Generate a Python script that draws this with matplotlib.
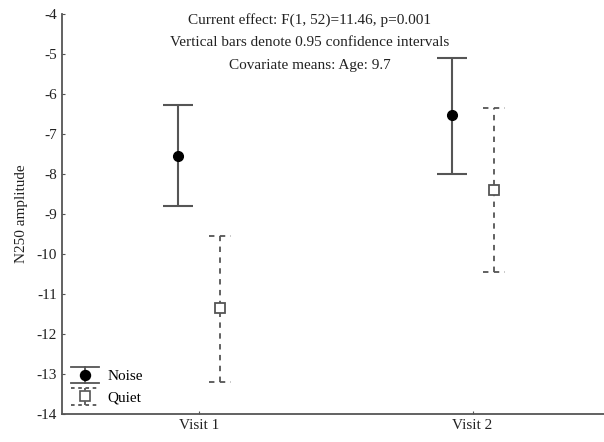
import numpy as np
import matplotlib as mpl
mpl.use('Agg')
import matplotlib.pyplot as plt
from matplotlib.lines import Line2D
from matplotlib.legend_handler import HandlerBase

mpl.rcParams['font.family'] = 'Liberation Serif'
mpl.rcParams['font.size'] = 11
mpl.rcParams['axes.unicode_minus'] = False

# data
visits = ['Visit 1', 'Visit 2']
noise_mean = [-7.55, -6.52]
noise_low = [-8.79, -8.00]
noise_high = [-6.27, -5.09]
quiet_mean = [-11.35, -8.39]
quiet_low = [-13.19, -10.45]
quiet_high = [-9.54, -6.35]

annot = ['Current effect: F(1, 52)=11.46, p=0.001',
         'Vertical bars denote 0.95 confidence intervals',
         'Covariate means: Age: 9.7']

line_col = '#555555'
text_col = '#222222'
dash = (0, (3, 3))

fig = plt.figure(figsize=(6.04, 4.42), dpi=100)
ax = fig.add_axes([62 / 604, 1 - 414 / 442, 1 - 62 / 604, 400 / 442])

x = np.arange(1, len(visits) + 1)
off = 0.077
cap_w = 0.04  # half width of the caps in data units


def yerr(mean, low, high):
    mean = np.array(mean)
    return np.vstack([mean - np.array(low), np.array(high) - mean])


# noise
ax.errorbar(x - off, noise_mean, yerr=yerr(noise_mean, noise_low, noise_high),
            fmt='o', color='black', ecolor=line_col, elinewidth=1.5,
            capsize=11, capthick=1.5, markersize=7, zorder=3)

# quiet, dashed whiskers and caps
xq = x + off
ax.vlines(xq, quiet_low, quiet_high, colors=line_col, linewidth=1.3,
          linestyles=dash, zorder=2)
ax.hlines(quiet_low, xq - cap_w, xq + cap_w, colors=line_col, linewidth=1.3,
          linestyles=dash, zorder=2)
ax.hlines(quiet_high, xq - cap_w, xq + cap_w, colors=line_col, linewidth=1.3,
          linestyles=dash, zorder=2)
ax.plot(xq, quiet_mean, 's', mfc='white', mec=line_col, mew=1.3,
        markersize=7.5, zorder=3)

# axes
ax.set_xlim(0.5, 2.48)
ax.set_ylim(-14, -4)
ax.set_yticks(np.arange(-14, -3, 1))
ax.set_xticks(x)
ax.set_xticklabels(visits)
ax.tick_params(direction='in', length=2, colors=line_col, labelcolor=text_col)
ax.spines['top'].set_visible(False)
ax.spines['right'].set_visible(False)
ax.spines['left'].set_color(line_col)
ax.spines['bottom'].set_color(line_col)
ax.spines['left'].set_linewidth(1.3)
ax.spines['bottom'].set_linewidth(1.3)
ax.set_ylabel('N250 amplitude', color=text_col, labelpad=6)

# annotation text
for i, t in enumerate(annot):
    fig.text(310 / 604, 1 - (20 + i * 22.5) / 442, t, ha='center', va='center',
             color=text_col, fontsize=11)


# legend handles: marker with whisker and caps
class ErrHandler(HandlerBase):
    def __init__(self, marker, mfc, ls):
        super().__init__()
        self.marker, self.mfc, self.ls = marker, mfc, ls

    def create_artists(self, legend, orig, xd, yd, w, h, fs, trans):
        cx = xd + w / 2
        cy = yd + h / 2
        top, bot = cy + h * 0.75, cy - h * 0.75
        arts = [Line2D([cx, cx], [bot, top], color=line_col, lw=1.3, ls=self.ls),
                Line2D([xd, xd + w], [top, top], color=line_col, lw=1.3, ls=self.ls),
                Line2D([xd, xd + w], [bot, bot], color=line_col, lw=1.3, ls=self.ls),
                Line2D([cx], [cy], marker=self.marker, mfc=self.mfc,
                       mec='black' if self.mfc == 'black' else line_col,
                       ms=7, mew=1.2, ls='none')]
        for a in arts:
            a.set_transform(trans)
        return arts


h1 = Line2D([], [])
h2 = Line2D([], [])
ax.legend([h1, h2], ['Noise', 'Quiet'], loc='lower left', frameon=False,
          handlelength=1.8, borderaxespad=0.2, labelspacing=0.5,
          handletextpad=0.6,
          handler_map={h1: ErrHandler('o', 'black', '-'),
                       h2: ErrHandler('s', 'white', (0, (2, 2)))})

plt.savefig('out.png', dpi=100)
plt.close()
